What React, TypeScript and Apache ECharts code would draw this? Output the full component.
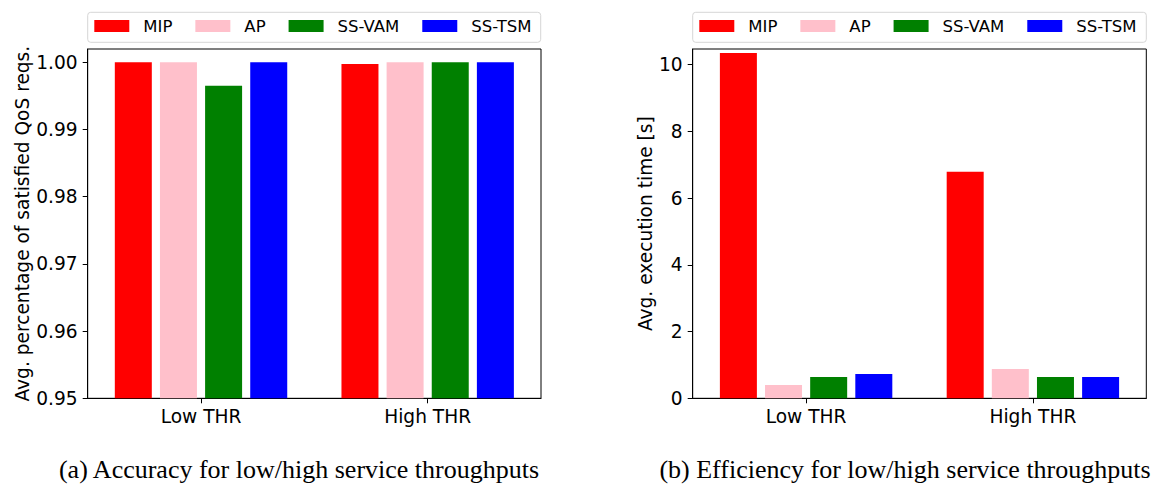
import React, { useEffect, useRef } from "react";
import * as echarts from "echarts";

const categories = ["Low THR", "High THR"];
const seriesNames = ["MIP", "AP", "SS-VAM", "SS-TSM"];
const seriesColors = ["#ff0000", "#ffc0cb", "#008000", "#0000ff"];

const accMIP = [1.0, 0.99975];
const accAP = [1.0, 1.0];
const accVAM = [0.9965, 1.0];
const accTSM = [1.0, 1.0];

const timeMIP = [10.35, 6.79];
const timeAP = [0.4, 0.88];
const timeVAM = [0.64, 0.64];
const timeTSM = [0.73, 0.64];

const accTicks = [0.95, 0.96, 0.97, 0.98, 0.99, 1.0];
const timeTicks = [0, 2, 4, 6, 8, 10];

const FONT = "DejaVu Sans";
const FS = 18.6;
const LFS = 16.5;

export default function App() {
  const ref = useRef<HTMLDivElement>(null);
  useEffect(() => {
    if (!ref.current) return;
    const chart = echarts.init(ref.current, undefined, { renderer: "svg" });
    const accData = [accMIP, accAP, accVAM, accTSM];
    const timeData = [timeMIP, timeAP, timeVAM, timeTSM];

    const xAxisBase = (gridIndex: number) => ({
      type: "category",
      gridIndex,
      data: categories,
      boundaryGap: true,
      axisLine: { show: true, lineStyle: { color: "#000", width: 1 } },
      axisTick: { show: true, alignWithLabel: true, length: 5, lineStyle: { color: "#000", width: 1 } },
      axisLabel: { color: "#000", fontFamily: FONT, fontSize: FS, margin: 9 },
      splitLine: { show: false },
    });

    const series: any[] = [];
    seriesNames.forEach((n, i) => {
      series.push({
        type: "bar",
        name: n,
        xAxisIndex: 0,
        yAxisIndex: 0,
        data: accData[i],
        barWidth: 37,
        barGap: "22%",
        itemStyle: { color: seriesColors[i] },
      });
    });
    seriesNames.forEach((n, i) => {
      series.push({
        type: "bar",
        name: n,
        xAxisIndex: 1,
        yAxisIndex: 1,
        data: timeData[i],
        barWidth: 37,
        barGap: "22%",
        itemStyle: { color: seriesColors[i] },
      });
    });

    const legendBase = (left: number) => ({
      left,
      top: 17,
      orient: "horizontal",
      data: seriesNames,
      itemWidth: 35,
      itemHeight: 12,
      itemGap: 23,
      icon: "rect",
      selectedMode: false,
      padding: 0,
      textStyle: {
        color: "#000",
        fontFamily: FONT,
        fontSize: LFS,
        lineHeight: 18,
        padding: [0, 0, 0, 9],
      },
    });

    chart.setOption({
      animation: false,
      backgroundColor: "#fff",
      grid: [
        { left: 87.7, top: 49, width: 453.3, height: 349.3, show: true, borderColor: "#000", borderWidth: 1, backgroundColor: "transparent" },
        { left: 692.7, top: 49, width: 453.6, height: 349.3, show: true, borderColor: "#000", borderWidth: 1, backgroundColor: "transparent" },
      ],
      xAxis: [xAxisBase(0), xAxisBase(1)],
      yAxis: [
        {
          type: "value",
          gridIndex: 0,
          min: 0.95,
          max: 1.00198,
          name: "Avg. percentage of satisfied QoS reqs.",
          nameLocation: "middle",
          nameGap: 56,
          nameTextStyle: { color: "#000", fontFamily: FONT, fontSize: FS },
          axisLine: { show: true, lineStyle: { color: "#000", width: 1 } },
          axisTick: { show: true, length: 5, customValues: accTicks, lineStyle: { color: "#000", width: 1 } },
          axisLabel: {
            color: "#000",
            fontFamily: FONT,
            fontSize: FS,
            margin: 10,
            customValues: accTicks,
            formatter: (v: number) => v.toFixed(2),
          },
          splitLine: { show: false },
        },
        {
          type: "value",
          gridIndex: 1,
          min: 0,
          max: 10.47,
          name: "Avg. execution time [s]",
          nameLocation: "middle",
          nameGap: 38,
          nameTextStyle: { color: "#000", fontFamily: FONT, fontSize: FS },
          axisLine: { show: true, lineStyle: { color: "#000", width: 1 } },
          axisTick: { show: true, length: 5, customValues: timeTicks, lineStyle: { color: "#000", width: 1 } },
          axisLabel: {
            color: "#000",
            fontFamily: FONT,
            fontSize: FS,
            margin: 10,
            customValues: timeTicks,
            formatter: (v: number) => String(v),
          },
          splitLine: { show: false },
        },
      ],
      legend: [legendBase(94.3), legendBase(699.3)],
      graphic: [
        {
          type: "rect",
          z: -1,
          shape: { x: 87.7, y: 12.3, width: 453, height: 30, r: 3 },
          style: { fill: "#fff", stroke: "#d6d6d6", lineWidth: 1 },
        },
        {
          type: "rect",
          z: -1,
          shape: { x: 692.7, y: 12.3, width: 453.6, height: 30, r: 3 },
          style: { fill: "#fff", stroke: "#d6d6d6", lineWidth: 1 },
        },
        {
          type: "text",
          x: 299,
          y: 469,
          style: {
            text: "(a) Accuracy for low/high service throughputs",
            font: '26px "Liberation Serif"',
            fill: "#000",
            textAlign: "center",
            textVerticalAlign: "middle",
          },
        },
        {
          type: "text",
          x: 905,
          y: 469,
          style: {
            text: "(b) Efficiency for low/high service throughputs",
            font: '26px "Liberation Serif"',
            fill: "#000",
            textAlign: "center",
            textVerticalAlign: "middle",
          },
        },
      ],
      series,
    });
    return () => chart.dispose();
  }, []);
  return (
    <div
      ref={ref}
      style={{ position: "fixed", left: 0, top: 0, width: 1157, height: 486 }}
    />
  );
}
